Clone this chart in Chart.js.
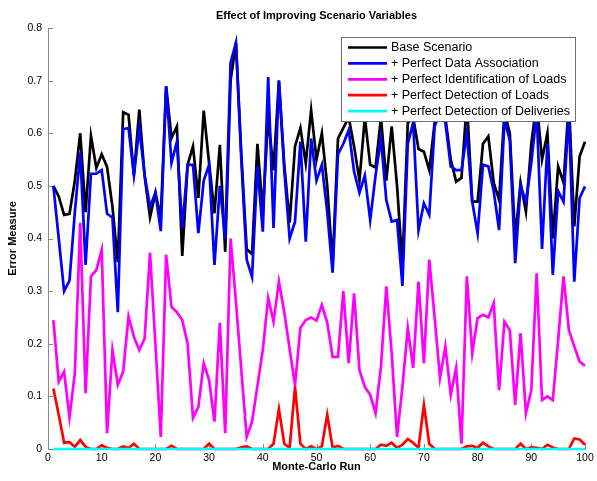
<!DOCTYPE html>
<html>
<head>
<meta charset="utf-8">
<script src="https://cdn.jsdelivr.net/npm/chart.js@4.4.1/dist/chart.umd.min.js"></script>
<style>
  html, body { margin: 0; padding: 0; background: #fff; }
  #wrap { width: 597px; height: 481px; }
</style>
</head>
<body>
<div id="wrap"><canvas id="errorChart" width="597" height="481"></canvas></div>
<script>
// Monte-Carlo runs 1..100
const runs = Array.from({ length: 100 }, (_, i) => i + 1);

const xTicks = [0, 10, 20, 30, 40, 50, 60, 70, 80, 90, 100];
const yTicks = [0, 0.1, 0.2, 0.3, 0.4, 0.5, 0.6, 0.7, 0.8];

const seriesNames = [
  "Base Scenario",
  "+ Perfect Data Association",
  "+ Perfect Identification of Loads",
  "+ Perfect Detection of Loads",
  "+ Perfect Detection of Deliveries",
];

const baseScenario = [
  0.50, 0.48, 0.445, 0.447, 0.51, 0.60, 0.45, 0.595, 0.534, 0.56,
  0.536, 0.46, 0.355, 0.64, 0.635, 0.52, 0.645, 0.518, 0.44, 0.487,
  0.44, 0.689, 0.591, 0.613, 0.367, 0.54, 0.575, 0.477, 0.643, 0.543,
  0.448, 0.578, 0.375, 0.70, 0.772, 0.56, 0.38, 0.37, 0.58, 0.45,
  0.63, 0.53, 0.70, 0.54, 0.43, 0.575, 0.61, 0.543, 0.644, 0.55,
  0.60, 0.50, 0.35, 0.59, 0.61, 0.63, 0.575, 0.51, 0.63, 0.54,
  0.535, 0.63, 0.51, 0.613, 0.50, 0.35, 0.62, 0.63, 0.57, 0.565,
  0.53, 0.62, 0.66, 0.63, 0.55, 0.508, 0.515, 0.66, 0.47, 0.47,
  0.58, 0.594, 0.506, 0.473, 0.64, 0.60, 0.40, 0.506, 0.451, 0.58,
  0.66, 0.55, 0.60, 0.40, 0.537, 0.506, 0.66, 0.423, 0.556, 0.584,
];

const dataAssociation = [
  0.50, 0.40, 0.30, 0.32, 0.45, 0.563, 0.35, 0.523, 0.523, 0.53,
  0.447, 0.44, 0.26, 0.608, 0.61, 0.52, 0.61, 0.52, 0.46, 0.487,
  0.414, 0.689, 0.544, 0.584, 0.42, 0.54, 0.54, 0.41, 0.51, 0.54,
  0.35, 0.50, 0.40, 0.734, 0.772, 0.55, 0.36, 0.327, 0.537, 0.413,
  0.707, 0.42, 0.70, 0.53, 0.40, 0.432, 0.584, 0.394, 0.59, 0.51,
  0.54, 0.45, 0.335, 0.56, 0.58, 0.606, 0.527, 0.487, 0.52, 0.435,
  0.52, 0.59, 0.473, 0.432, 0.435, 0.31, 0.58, 0.62, 0.416, 0.467,
  0.445, 0.613, 0.64, 0.62, 0.537, 0.53, 0.53, 0.60, 0.47, 0.41,
  0.54, 0.537, 0.49, 0.416, 0.625, 0.587, 0.353, 0.50, 0.47, 0.543,
  0.64, 0.38, 0.58, 0.331, 0.49, 0.47, 0.64, 0.318, 0.477, 0.499,
];

const identificationOfLoads = [
  0.245, 0.128, 0.147, 0.06, 0.144, 0.43, 0.106, 0.328, 0.34, 0.378,
  0.03, 0.188, 0.122, 0.147, 0.252, 0.213, 0.188, 0.21, 0.373, 0.2,
  0.023, 0.369, 0.27, 0.26, 0.245, 0.2, 0.059, 0.08, 0.163, 0.131,
  0.052, 0.24, 0.03, 0.40, 0.28, 0.15, 0.023, 0.052, 0.12, 0.188,
  0.287, 0.242, 0.318, 0.26, 0.19, 0.122, 0.23, 0.245, 0.25, 0.244,
  0.274, 0.24, 0.175, 0.175, 0.30, 0.163, 0.296, 0.15, 0.118, 0.103,
  0.068, 0.156, 0.309, 0.182, 0.023, 0.118, 0.23, 0.154, 0.318, 0.163,
  0.36, 0.25, 0.135, 0.195, 0.103, 0.154, 0.01, 0.328, 0.182, 0.249,
  0.255, 0.25, 0.277, 0.112, 0.242, 0.226, 0.084, 0.22, 0.068, 0.112,
  0.334, 0.093, 0.1, 0.093, 0.207, 0.328, 0.226, 0.195, 0.166, 0.158,
];

const detectionOfLoads = [
  0.115, 0.065, 0.012, 0.013, 0.004, 0.017, 0.004, 0, 0, 0.007,
  0.002, 0, 0, 0.005, 0.002, 0.01, 0, 0, 0, 0,
  0, 0, 0.006, 0, 0, 0, 0, 0, 0, 0.01,
  0, 0, 0, 0, 0, 0.003, 0.005, 0, 0, 0,
  0, 0.01, 0.076, 0.01, 0.002, 0.118, 0.01, 0, 0.005, 0,
  0.005, 0.065, 0.003, 0.006, 0, 0, 0, 0, 0, 0,
  0, 0.008, 0.006, 0.012, 0.002, 0.008, 0.019, 0.012, 0.002, 0.084,
  0.01, 0, 0, 0, 0, 0, 0, 0.005, 0.006, 0.002,
  0.012, 0.005, 0, 0, 0, 0, 0, 0.01, 0, 0.003,
  0.002, 0, 0.008, 0.003, 0, 0, 0, 0.02, 0.018, 0.008,
];

const detectionOfDeliveries = [
  0, 0, 0, 0, 0, 0, 0, 0, 0, 0,
  0, 0, 0, 0, 0, 0, 0, 0, 0, 0,
  0, 0, 0, 0, 0, 0, 0, 0, 0, 0,
  0, 0, 0, 0, 0, 0, 0, 0, 0, 0,
  0, 0, 0, 0, 0, 0, 0, 0, 0, 0,
  0, 0, 0, 0, 0, 0, 0, 0, 0, 0,
  0, 0, 0, 0, 0, 0, 0, 0, 0, 0,
  0, 0, 0, 0, 0, 0, 0, 0, 0, 0,
  0, 0, 0, 0, 0, 0, 0, 0, 0, 0,
  0, 0, 0, 0, 0, 0, 0, 0, 0, 0,
];

const seriesValues = [
  baseScenario,
  dataAssociation,
  identificationOfLoads,
  detectionOfLoads,
  detectionOfDeliveries,
];
const seriesColors = ["#000000", "#0000ff", "#ff00ff", "#ff0000", "#00ffff"];

const fontFamily = "'Liberation Sans', Arial, Helvetica, sans-serif";
const axisColor = "#8a8a8a";

// MATLAB style: title over the axes, ticks pointing inwards
const matlabAxes = {
  id: "matlabAxes",
  beforeDatasetsDraw(chart) {
    const { ctx, chartArea, scales } = chart;
    ctx.save();
    ctx.strokeStyle = axisColor;
    ctx.lineWidth = 1;
    ctx.beginPath();
    xTicks.forEach((v) => {
      const px = Math.round(scales.x.getPixelForValue(v)) + 0.5;
      ctx.moveTo(px, chartArea.bottom);
      ctx.lineTo(px, chartArea.bottom - 5);
    });
    yTicks.forEach((v) => {
      const py = Math.round(scales.y.getPixelForValue(v)) + 0.5;
      ctx.moveTo(chartArea.left, py);
      ctx.lineTo(chartArea.left + 5, py);
    });
    ctx.stroke();
    ctx.restore();
  },
  afterDraw(chart) {
    const { ctx, chartArea } = chart;
    ctx.save();
    ctx.fillStyle = "#000";
    ctx.font = "bold 11px " + fontFamily;
    ctx.textAlign = "center";
    ctx.textBaseline = "middle";
    ctx.fillText(
      "Effect of Improving Scenario Variables",
      (chartArea.left + chartArea.right) / 2,
      16
    );
    ctx.restore();
  },
};

// legend box inside the axes, top right
const boxLegend = {
  id: "boxLegend",
  afterDraw(chart) {
    const { ctx } = chart;
    const x = 341, y = 37, w = 234, h = 84;
    ctx.save();
    ctx.fillStyle = "#fff";
    ctx.fillRect(x, y, w, h);
    ctx.strokeStyle = "#6e6e6e";
    ctx.lineWidth = 1;
    ctx.strokeRect(x + 0.5, y + 0.5, w, h);
    ctx.font = "12.5px " + fontFamily;
    ctx.textBaseline = "middle";
    ctx.textAlign = "left";
    chart.data.datasets.forEach((ds, i) => {
      const cy = y + 10.5 + i * 15.9;
      ctx.strokeStyle = ds.borderColor;
      ctx.lineWidth = ds.borderWidth;
      ctx.beginPath();
      ctx.moveTo(x + 7, cy);
      ctx.lineTo(x + 46, cy);
      ctx.stroke();
      ctx.fillStyle = "#000";
      ctx.fillText(ds.label, x + 50, cy + 0.5);
    });
    ctx.restore();
  },
};

const ctx = document.getElementById("errorChart").getContext("2d");
const chart = new Chart(ctx, {
  type: "line",
  data: {
    labels: runs,
    datasets: seriesNames.map((name, i) => ({
      label: name,
      data: seriesValues[i],
      borderColor: seriesColors[i],
      backgroundColor: seriesColors[i],
      borderWidth: 2.7,
      pointRadius: 0,
      tension: 0,
      fill: false,
      clip: false,
      order: seriesNames.length - i, // later series on top, as in MATLAB
    })),
  },
  options: {
    responsive: false,
    animation: false,
    devicePixelRatio: 1,
    layout: { padding: { top: 28, right: 12, bottom: 0, left: 0 } },
    plugins: {
      legend: { display: false },
      title: { display: false },
      tooltip: { enabled: false },
    },
    scales: {
      x: {
        type: "linear",
        min: 0,
        max: 100,
        border: { display: true, color: axisColor, width: 1 },
        grid: { display: false, drawTicks: false },
        ticks: {
          stepSize: 10,
          padding: 3,
          color: "#000",
          maxRotation: 0,
          font: { family: fontFamily, size: 10.5 },
        },
        title: {
          display: true,
          text: "Monte-Carlo Run",
          color: "#000",
          font: { family: fontFamily, size: 11, weight: "bold" },
          padding: { top: 0, bottom: 7 },
        },
        afterFit: (scale) => {
          scale.height = 32;
        },
      },
      y: {
        type: "linear",
        min: 0,
        max: 0.8,
        border: { display: true, color: axisColor, width: 1 },
        grid: { display: false, drawTicks: false },
        ticks: {
          stepSize: 0.1,
          padding: 6,
          color: "#000",
          font: { family: fontFamily, size: 10.5 },
          callback: (v) => String(Number(v.toFixed(1))),
        },
        title: {
          display: true,
          text: "Error Measure",
          color: "#000",
          font: { family: fontFamily, size: 11, weight: "bold" },
          padding: { top: 6, bottom: 0 },
        },
        afterFit: (scale) => {
          scale.width = 48;
        },
      },
    },
  },
  plugins: [matlabAxes, boxLegend],
});
</script>
</body>
</html>
